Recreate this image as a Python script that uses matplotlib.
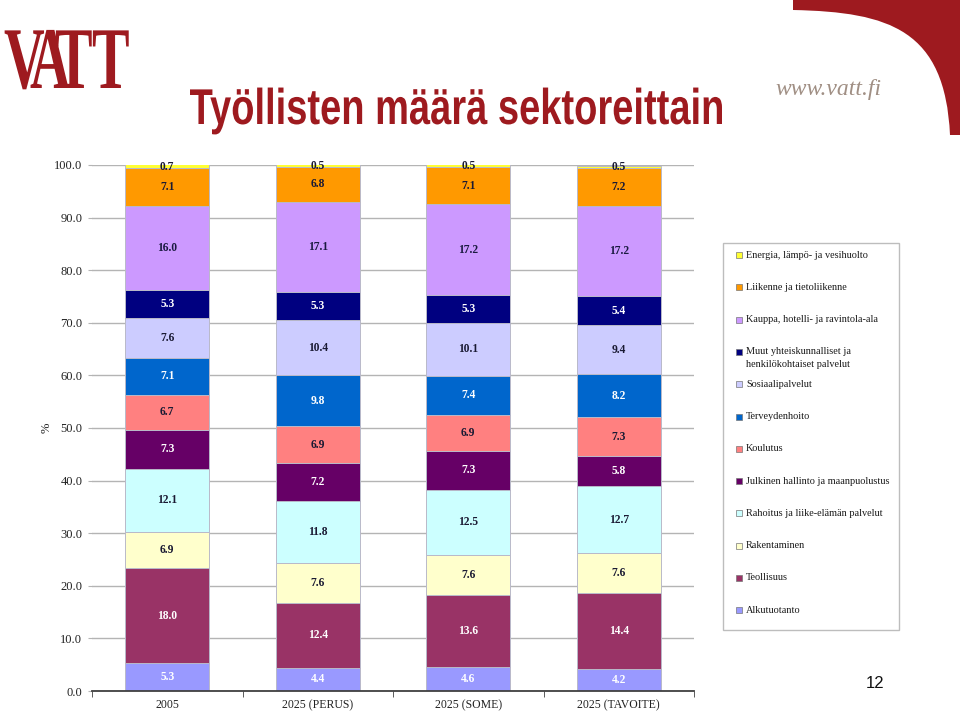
import matplotlib.pyplot as plt
from matplotlib.patches import Rectangle, PathPatch
from matplotlib.path import Path
from matplotlib.textpath import TextPath
from matplotlib.font_manager import FontProperties
from matplotlib.transforms import Affine2D
import numpy as np

# scenarios on the x axis
scenarios = ["2005", "2025 (PERUS)", "2025 (SOME)", "2025 (TAVOITE)"]

# sectors, bottom of the stack first
sectors = [
    "Alkutuotanto",
    "Teollisuus",
    "Rakentaminen",
    "Rahoitus ja liike-elämän palvelut",
    "Julkinen hallinto ja maanpuolustus",
    "Koulutus",
    "Terveydenhoito",
    "Sosiaalipalvelut",
    "Muut yhteiskunnalliset ja\nhenkilökohtaiset palvelut",
    "Kauppa, hotelli- ja ravintola-ala",
    "Liikenne ja tietoliikenne",
    "Energia, lämpö- ja vesihuolto",
]

# share of employed (%) per sector, same order as sectors
share_2005 = [5.3, 18.0, 6.9, 12.1, 7.3, 6.7, 7.1, 7.6, 5.3, 16.0, 7.1, 0.7]
share_perus = [4.4, 12.4, 7.6, 11.8, 7.2, 6.9, 9.8, 10.4, 5.3, 17.1, 6.8, 0.5]
share_some = [4.6, 13.6, 7.6, 12.5, 7.3, 6.9, 7.4, 10.1, 5.3, 17.2, 7.1, 0.5]
share_tavoite = [4.2, 14.4, 7.6, 12.7, 5.8, 7.3, 8.2, 9.4, 5.4, 17.2, 7.2, 0.5]

colors = ["#9999FF", "#993366", "#FFFFCC", "#CCFFFF", "#660066", "#FF8080",
          "#0066CC", "#CCCCFF", "#000080", "#CC99FF", "#FF9900", "#FFFF33"]
label_colors = ["white", "white", "#1a1a33", "#1a1a33", "white", "#1a1a33",
                "white", "#1a1a33", "white", "#1a1a40", "#1a1a33", "#1a1a33"]

title = "Työllisten määrä sektoreittain"
dark_red = "#9E1A1F"
serif = ["Liberation Serif", "DejaVu Serif"]

fig = plt.figure(figsize=(9.6, 7.13), dpi=100)

# overlay in pixel coordinates for the slide decoration and the legend
ov = fig.add_axes([0, 0, 1, 1])
ov.set_xlim(0, 960)
ov.set_ylim(713, 0)
ov.axis("off")

# top right corner swoosh
verts = [(793, 0), (960, 0), (960, 135), (950, 135),
         (945, 30), (890, 12), (793, 10), (793, 0)]
codes = [Path.MOVETO, Path.LINETO, Path.LINETO, Path.LINETO,
         Path.CURVE4, Path.CURVE4, Path.CURVE4, Path.CLOSEPOLY]
ov.add_patch(PathPatch(Path(verts, codes), facecolor=dark_red, edgecolor="none"))

# VATT logo
logo_font = FontProperties(family=serif, weight="bold")
for letter, left in [("V", 4), ("A", 30), ("T", 55), ("T", 92)]:
    tp = TextPath((0, 0), letter, size=88, prop=logo_font)
    tr = Affine2D().scale(0.64, -1.0).translate(left, 88)
    ov.add_patch(PathPatch(tr.transform_path(tp), facecolor=dark_red, edgecolor="none"))

# condensed bold title (squeezed sans, no narrow font installed)
title_font = FontProperties(family=["Liberation Sans", "DejaVu Sans"], weight="bold")
tp = TextPath((0, 0), title, size=50.3, prop=title_font)
ext = tp.get_extents()
sx = 532 / ext.width
tr = Affine2D().translate(-ext.x0, 0).scale(sx, -1.0).translate(190, 124)
ov.add_patch(PathPatch(tr.transform_path(tp), facecolor=dark_red, edgecolor="none"))

ov.text(829, 89, "www.vatt.fi", family=serif, style="italic", fontsize=17,
        color="#a08f84", ha="center", va="center")
ov.text(875, 683, "12", family=["Liberation Sans", "DejaVu Sans"], fontsize=12,
        color="#111111", ha="center", va="center")

# legend box, top entry first
ov.add_patch(Rectangle((723, 243), 176, 387, facecolor="white",
                       edgecolor="#bdbdbd", lw=1))
for k, i in enumerate(range(len(sectors) - 1, -1, -1)):
    y = 255 + k * 32.3
    ov.add_patch(Rectangle((736, y - 3), 6, 6, facecolor=colors[i],
                           edgecolor="#777777", lw=0.5))
    for j, line in enumerate(sectors[i].split("\n")):
        ov.text(746, y + j * 12.5, line, family=serif, fontsize=7.4,
                color="#1a1a1a", ha="left", va="center")

# chart
ax = fig.add_axes([92 / 960, 1 - 691 / 713, 602 / 960, 526 / 713])
data = np.array([share_2005, share_perus, share_some, share_tavoite])
x = np.arange(len(scenarios))
bottom = np.zeros(len(scenarios))
for i, name in enumerate(sectors):
    vals = data[:, i]
    bars = ax.bar(x, vals, bottom=bottom, width=0.56, color=colors[i],
                  edgecolor="#b9b9c9", lw=0.7, zorder=2)
    ax.bar_label(bars, labels=[f"{v:.1f}" for v in vals], label_type="center",
                 family=serif, weight="bold", fontsize=8.3, color=label_colors[i])
    bottom += vals

ax.set_xlim(-0.5, 3.5)
ax.set_ylim(0, 100)
ax.set_yticks(np.arange(0, 101, 10))
ax.set_yticklabels([f"{v:.1f}" for v in np.arange(0, 101, 10)],
                   family=serif, fontsize=9, color="#222222")
ax.set_xticks(x)
ax.set_xticklabels(scenarios, family=serif, fontsize=8.5, color="#222222")
ax.set_xticks(np.arange(-0.5, 3.6, 1), minor=True)
ax.tick_params(axis="x", which="major", length=0, pad=6)
ax.tick_params(axis="x", which="minor", length=4, color="#404040", direction="out")
ax.tick_params(axis="y", length=3, color="#b4b4b4", pad=4)
ax.yaxis.grid(True, color="#b4b4b4", lw=1)
ax.set_axisbelow(True)
for side in ["top", "right", "left"]:
    ax.spines[side].set_visible(False)
ax.spines["bottom"].set_color("#404040")
ax.spines["bottom"].set_linewidth(1.3)
ax.spines["bottom"].set_zorder(3)
ax.set_ylabel("%", family=serif, fontsize=9, color="#222222", labelpad=1)

fig.savefig("out.png", dpi=100)
